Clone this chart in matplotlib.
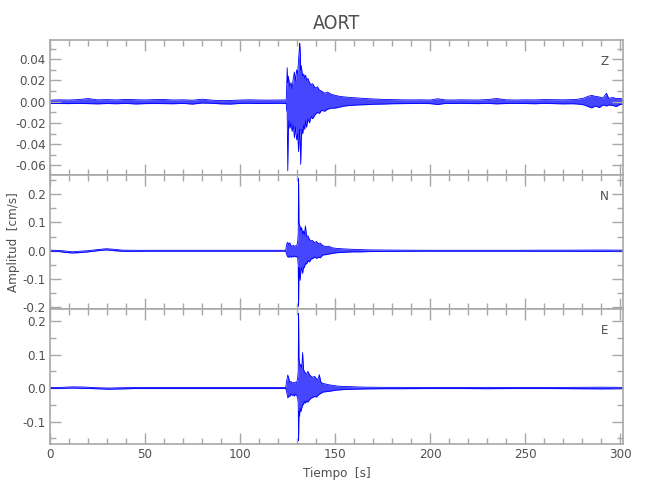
import numpy as np
import matplotlib
matplotlib.use('Agg')
import matplotlib.pyplot as plt
from matplotlib.ticker import MultipleLocator, FormatStrFormatter

plt.rcParams['font.family'] = ['DejaVu Sans']
plt.rcParams['font.stretch'] = 'condensed'
plt.rcParams['axes.unicode_minus'] = False

#station and component names
station = 'AORT'
components = ['Z', 'N', 'E']

#envelope of each trace (time in s, upper and lower amplitude in cm/s)
t_z = [0, 5, 10, 15, 20, 25, 30, 35, 40, 45, 50, 55, 60, 65, 70, 75, 80, 85, 90, 95, 100,
       105, 110, 115, 120, 124.3, 124.5, 124.8, 125.1, 125.4, 125.7, 126.2, 126.8, 127.4, 128.0,
       128.6, 129.2, 129.8, 130.3, 130.8, 131.2, 131.4, 131.7, 131.9, 132.2, 132.6, 133.0, 133.5,
       134.0, 134.5, 135.0, 135.7, 136.5, 137.4, 138.2, 139.5, 140.8, 141.7, 143.0, 144.5, 146,
       148, 150, 152.5, 155, 158, 162, 166, 170, 175, 180, 185, 190, 195, 200, 204, 208, 212, 216,
       220, 225, 230, 235, 240, 245, 250, 255, 260, 265, 270, 275, 278, 281, 283, 285, 287, 289,
       291, 292.8, 294, 296, 298, 300, 301.5]
hi_z = [0.0015, 0.0018, 0.0016, 0.0020, 0.0030, 0.0018, 0.0020, 0.0017, 0.0022, 0.0019, 0.0017,
        0.0020, 0.0021, 0.0016, 0.0018, 0.0014, 0.0024, 0.0015, 0.0010, 0.0012, 0.0016, 0.0018,
        0.0016, 0.0015, 0.0016, 0.0017, 0.012, 0.032, 0.018, 0.024, 0.020, 0.014, 0.018, 0.012,
        0.022, 0.028, 0.020, 0.030, 0.026, 0.040, 0.050, 0.055, 0.046, 0.030, 0.034, 0.028, 0.024,
        0.026, 0.022, 0.025, 0.020, 0.022, 0.018, 0.016, 0.017, 0.013, 0.014, 0.011, 0.010, 0.008,
        0.009, 0.007, 0.006, 0.005, 0.0045, 0.004, 0.0035, 0.003, 0.0026, 0.0022, 0.0020, 0.0018,
        0.0017, 0.0018, 0.0016, 0.0028, 0.0017, 0.0016, 0.0018, 0.0017, 0.0016, 0.0020, 0.0030,
        0.0018, 0.0016, 0.0018, 0.0017, 0.0020, 0.0019, 0.0018, 0.0020, 0.0024, 0.0035, 0.0050,
        0.0060, 0.0050, 0.0045, 0.0035, 0.0080, 0.0030, 0.0040, 0.0030, 0.0030, 0.0025]
lo_z = [-0.0015, -0.0017, -0.0018, -0.0016, -0.0018, -0.0020, -0.0017, -0.0019, -0.0016, -0.0021,
        -0.0018, -0.0017, -0.0018, -0.0019, -0.0016, -0.0022, -0.0012, -0.0015, -0.0020, -0.0022,
        -0.0016, -0.0015, -0.0017, -0.0016, -0.0015, -0.0016, -0.008, -0.010, -0.065, -0.030,
        -0.018, -0.025, -0.020, -0.028, -0.022, -0.034, -0.024, -0.036, -0.030, -0.047, -0.030,
        -0.026, -0.040, -0.059, -0.036, -0.026, -0.030, -0.022, -0.026, -0.018, -0.024, -0.016,
        -0.020, -0.014, -0.016, -0.012, -0.010, -0.011, -0.008, -0.009, -0.007, -0.006, -0.006,
        -0.005, -0.004, -0.0035, -0.003, -0.0028, -0.0024, -0.0022, -0.0019, -0.0018, -0.0017,
        -0.0016, -0.0018, -0.0026, -0.0016, -0.0017, -0.0015, -0.0017, -0.0018, -0.0016, -0.0020,
        -0.0017, -0.0016, -0.0017, -0.0019, -0.0016, -0.0018, -0.0020, -0.0019, -0.0022, -0.0030,
        -0.0045, -0.0058, -0.0040, -0.0055, -0.0030, -0.0040, -0.0030, -0.0035, -0.0045, -0.0025,
        -0.0025]

t_n = [0, 5, 8, 11.7, 15, 20, 25, 29.6, 34, 38, 45, 55, 65, 75, 85, 95, 105, 115, 124, 124.6,
       125.1, 125.6, 126.2, 126.8, 127.4, 128.0, 128.6, 129.2, 129.8, 130.3, 130.6, 130.8, 131.0,
       131.2, 131.6, 132.0, 132.4, 132.9, 133.4, 133.8, 134.4, 135.0, 135.7, 136.5, 137.4, 138.2,
       139.2, 140.2, 141.2, 142.2, 143.5, 145, 146.5, 148.7, 151, 153.5, 156, 159, 163, 168, 175,
       185, 200, 215, 230, 245, 260, 275, 290, 301.5]
hi_n = [0.002, 0.001, -0.001, -0.004, -0.002, 0.0, 0.004, 0.007, 0.005, 0.002, 0.0015, 0.0015,
        0.0015, 0.0015, 0.0015, 0.0015, 0.0015, 0.0015, 0.0015, 0.025, 0.030, 0.020, 0.028, 0.018,
        0.016, 0.019, 0.015, 0.018, 0.016, 0.030, 0.060, 0.255, 0.100, 0.094, 0.085, 0.070, 0.082,
        0.060, 0.070, 0.055, 0.088, 0.050, 0.053, 0.040, 0.035, 0.036, 0.028, 0.033, 0.025, 0.027,
        0.018, 0.015, 0.016, 0.010, 0.008, 0.007, 0.006, 0.005, 0.004, 0.003, 0.0025, 0.002,
        0.0015, 0.0015, 0.0015, 0.0015, 0.002, 0.002, 0.0025, 0.002]
lo_n = [-0.002, -0.003, -0.006, -0.008, -0.007, -0.004, 0.0, 0.003, 0.0, -0.002, -0.002, -0.0015,
        -0.0015, -0.0015, -0.0015, -0.0015, -0.0015, -0.0015, -0.0015, -0.015, -0.022, -0.023,
        -0.018, -0.023, -0.020, -0.022, -0.018, -0.022, -0.020, -0.025, -0.050, -0.196, -0.060,
        -0.080, -0.105, -0.070, -0.060, -0.080, -0.058, -0.060, -0.045, -0.047, -0.035, -0.040,
        -0.029, -0.028, -0.022, -0.027, -0.023, -0.025, -0.015, -0.014, -0.012, -0.009, -0.007,
        -0.006, -0.005, -0.004, -0.004, -0.003, -0.0025, -0.002, -0.0015, -0.0015, -0.0015,
        -0.0015, -0.002, -0.002, -0.0025, -0.002]

t_e = [0, 6, 12, 18, 24, 31, 38, 45, 55, 65, 75, 85, 95, 105, 115, 124, 124.5, 125.1, 125.6,
       126.2, 126.8, 127.4, 128.0, 128.6, 129.2, 129.8, 130.3, 130.6, 130.8, 131.0, 131.3, 131.6,
       132.0, 132.5, 132.9, 133.4, 133.8, 134.4, 135.0, 135.7, 136.5, 137.4, 138.2, 139.2, 140.2,
       141.0, 141.7, 142.5, 143.5, 145, 146.5, 148.7, 151, 153.5, 156, 159, 163, 168, 175, 185,
       200, 215, 230, 245, 260, 275, 290, 301.5]
hi_e = [0.0015, 0.002, 0.0035, 0.003, 0.001, 0.0, 0.001, 0.0015, 0.0015, 0.0015, 0.0015, 0.0015,
        0.0015, 0.0015, 0.0015, 0.0015, 0.020, 0.039, 0.030, 0.016, 0.020, 0.014, 0.017, 0.015,
        0.018, 0.016, 0.030, 0.050, 0.223, 0.090, 0.076, 0.066, 0.070, 0.060, 0.106, 0.056, 0.050,
        0.045, 0.041, 0.050, 0.040, 0.035, 0.032, 0.035, 0.028, 0.025, 0.040, 0.018, 0.014, 0.012,
        0.010, 0.008, 0.006, 0.005, 0.0045, 0.004, 0.003, 0.0025, 0.002, 0.002, 0.0015, 0.0015,
        0.002, 0.0015, 0.0015, 0.002, 0.0025, 0.002]
lo_e = [-0.0015, -0.001, 0.0, -0.001, -0.002, -0.0035, -0.0025, -0.0015, -0.0015, -0.0015,
        -0.0015, -0.0015, -0.0015, -0.0015, -0.0015, -0.0015, -0.010, -0.029, -0.025, -0.024,
        -0.018, -0.022, -0.020, -0.024, -0.018, -0.022, -0.030, -0.045, -0.157, -0.070, -0.084,
        -0.060, -0.070, -0.059, -0.050, -0.049, -0.040, -0.045, -0.039, -0.042, -0.035, -0.030,
        -0.028, -0.025, -0.027, -0.022, -0.018, -0.016, -0.012, -0.011, -0.010, -0.008, -0.006,
        -0.005, -0.004, -0.0035, -0.003, -0.0025, -0.002, -0.002, -0.0015, -0.0015, -0.002,
        -0.0015, -0.0015, -0.002, -0.0025, -0.002]

traces = [(t_z, hi_z, lo_z), (t_n, hi_n, lo_n), (t_e, hi_e, lo_e)]

#axis settings per panel
y_limits = [(-0.0687, 0.0581), (-0.207, 0.269), (-0.167, 0.235)]
y_major = [0.02, 0.1, 0.1]
y_minor = [0.01, 0.05, 0.05]
y_format = ['%.2f', '%.1f', '%.1f']

grey = '#a8a8a8'
text_grey = '#505050'

fig = plt.figure(figsize=(6.5, 5), dpi=100)

left = 50 / 650
width = 573 / 650
height = 134.7 / 500
bottoms = [1 - 174.7 / 500, 1 - 309.3 / 500, 1 - 444 / 500]

axes_list = []
for i in range(3):
    ax = fig.add_axes([left, bottoms[i], width, height])
    t, hi, lo = traces[i]
    t = np.array(t)
    ax.fill_between(t, lo, hi, color='#4646ff', lw=0)
    ax.plot(t, hi, c='#0000ff', lw=0.6)
    ax.plot(t, lo, c='#0000ff', lw=0.6)

    ax.set_xlim(0, 301.5)
    ax.set_ylim(y_limits[i])
    ax.xaxis.set_major_locator(MultipleLocator(50))
    ax.xaxis.set_minor_locator(MultipleLocator(10))
    ax.yaxis.set_major_locator(MultipleLocator(y_major[i]))
    ax.yaxis.set_minor_locator(MultipleLocator(y_minor[i]))
    ax.yaxis.set_major_formatter(FormatStrFormatter(y_format[i]))
    ax.tick_params(which='both', direction='in', top=True, right=True, color=grey,
                   labelcolor=text_grey, labelsize=9.5, width=1)
    ax.tick_params(which='major', length=8, pad=3)
    ax.tick_params(which='minor', length=4)
    for s in ax.spines.values():
        s.set_color(grey)
        s.set_linewidth(1.2)
    if i < 2:
        ax.tick_params(labelbottom=False)
    ax.text(0.968, 0.84, components[i], transform=ax.transAxes, ha='center', va='center',
            fontsize=9.5, color=text_grey)
    axes_list.append(ax)

axes_list[0].set_title(station, fontsize=14, color=text_grey, pad=8)
axes_list[1].set_ylabel('Amplitud  [cm/s]', fontsize=9.5, color=text_grey, labelpad=2)
axes_list[2].set_xlabel('Tiempo  [s]', fontsize=9.5, color=text_grey, labelpad=4)

plt.savefig('out.png', dpi=100)
